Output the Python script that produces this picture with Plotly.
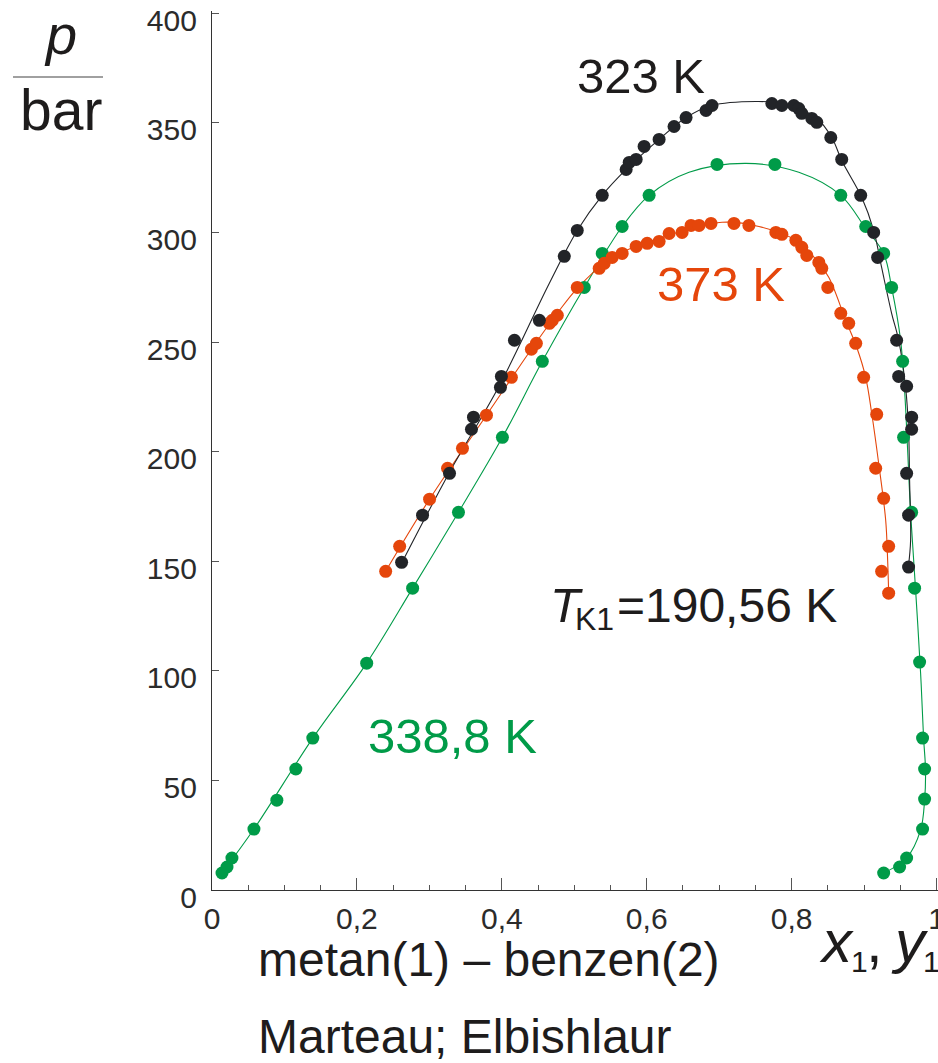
import plotly.graph_objects as go

# ---------------- data (x1/y1 mole fraction, p in bar) ----------------
# 323 K measured points
black_x = [0.2617, 0.2906, 0.3278, 0.3581, 0.3609, 0.3981, 0.3994, 0.4174, 0.4518, 0.4862,
           0.5041, 0.5386, 0.5716, 0.5758, 0.5854, 0.5964, 0.6171, 0.6377, 0.6543, 0.6818,
           0.6901, 0.7727, 0.7865, 0.8030, 0.8099, 0.8140, 0.8278, 0.8347, 0.8540, 0.8691,
           0.8953, 0.9132, 0.9187, 0.9449, 0.9477, 0.9587, 0.9656, 0.9656, 0.9587, 0.9614,
           0.9614]
black_p = [149.5, 171.0, 190.1, 210.2, 215.7, 229.3, 234.3, 250.8, 259.9, 289.1,
           300.9, 316.9, 328.7, 331.9, 333.3, 339.2, 342.4, 348.3, 352.4, 355.6,
           357.9, 358.8, 357.9, 357.9, 356.5, 354.3, 352.0, 350.2, 343.3, 333.3,
           316.9, 300.0, 288.6, 250.8, 234.3, 229.8, 215.7, 210.2, 190.1, 171.0,
           147.3]
# 323 K fitted envelope
black_line_x = [0.2617, 0.3278, 0.3967, 0.4656, 0.5041, 0.5386, 0.5716, 0.6171, 0.6543, 0.6901,
                0.7507, 0.7865, 0.8333, 0.8554, 0.8691, 0.8967, 0.9132, 0.9242, 0.9380, 0.9477,
                0.9573, 0.9614, 0.9628, 0.9642, 0.9614]
black_line_p = [149.1, 190.6, 230.2, 276.8, 300.9, 316.9, 328.7, 342.4, 352.4, 357.9,
                359.7, 358.8, 352.4, 343.3, 332.8, 316.0, 300.9, 284.0, 263.1, 250.8,
                229.3, 209.7, 186.9, 159.6, 148.2]

# 338,8 K measured points
green_x = [0.0138, 0.0207, 0.0275, 0.0579, 0.0895, 0.1157, 0.1391, 0.2135, 0.2769, 0.3402,
           0.4008, 0.4559, 0.5138, 0.5386, 0.5661, 0.6033, 0.6970, 0.7769, 0.8678, 0.9022,
           0.9270, 0.9380, 0.9532, 0.9545, 0.9656, 0.9697, 0.9766, 0.9807, 0.9835, 0.9835,
           0.9807, 0.9587, 0.9490, 0.9270]
green_p = [7.75, 10.5, 14.6, 27.8, 41.0, 55.2, 69.3, 103.5, 137.7, 172.3,
           206.5, 241.2, 274.9, 290.4, 302.7, 316.9, 331.0, 331.0, 316.9, 302.7,
           290.4, 274.9, 241.2, 206.5, 172.3, 137.7, 104.0, 69.3, 55.2, 41.5,
           27.8, 14.6, 10.5, 7.75]
green_line_x = [0.0138, 0.0579, 0.1391, 0.2135, 0.2769, 0.3402, 0.4008, 0.4559, 0.5138, 0.5661,
                0.6033, 0.6584, 0.7369, 0.8099, 0.8678, 0.9022, 0.9270, 0.9380, 0.9504, 0.9559,
                0.9601, 0.9642, 0.9711, 0.9780, 0.9821, 0.9848, 0.9835, 0.9780, 0.9587, 0.9270]
green_line_p = [7.75, 27.8, 69.3, 103.5, 137.7, 172.3, 206.5, 241.2, 274.9, 302.7,
                316.9, 327.4, 331.5, 327.4, 316.9, 301.8, 290.4, 274.9, 250.8, 228.0,
                200.6, 171.9, 136.8, 98.9, 69.3, 54.7, 41.0, 27.4, 14.6, 7.75]

# 373 K measured points
orange_x = [0.2397, 0.2590, 0.3003, 0.3251, 0.3457, 0.3788, 0.4132, 0.4408, 0.4477, 0.4656,
            0.4697, 0.4766, 0.5041, 0.5344, 0.5413, 0.5523, 0.5661, 0.5854, 0.6006, 0.6171,
            0.6309, 0.6488, 0.6612, 0.6722, 0.6887, 0.7204, 0.7410, 0.7782, 0.7865, 0.8058,
            0.8140, 0.8209, 0.8375, 0.8416, 0.8499, 0.8678, 0.8788, 0.8884, 0.8994, 0.9174,
            0.9160, 0.9270, 0.9339, 0.9242, 0.9339]
orange_p = [145.4, 156.8, 178.3, 192.4, 201.5, 216.6, 233.9, 246.7, 249.4, 258.5,
            259.9, 262.2, 274.9, 283.6, 285.9, 288.6, 290.4, 293.6, 295.0, 295.9,
            299.5, 300.0, 303.2, 303.2, 304.1, 304.1, 303.2, 300.0, 299.1, 296.4,
            293.2, 289.5, 286.3, 283.6, 274.9, 263.1, 258.5, 249.4, 233.9, 217.0,
            192.4, 178.7, 156.8, 145.4, 135.4]
orange_line_x = [0.2397, 0.3003, 0.3788, 0.4408, 0.4766, 0.5041, 0.5523, 0.6171, 0.7039, 0.7548,
                 0.8058, 0.8347, 0.8512, 0.8747, 0.8898, 0.9022, 0.9105, 0.9201, 0.9298, 0.9325,
                 0.9339]
orange_line_p = [145.4, 178.3, 216.6, 246.7, 263.1, 274.5, 288.6, 297.3, 304.6, 302.7,
                 296.4, 287.2, 279.5, 259.9, 247.6, 233.9, 217.5, 194.7, 168.7, 150.5,
                 135.4]

x_tickvals = [0, 0.2, 0.4, 0.6, 0.8, 1]
x_ticktext = ["0", "0,2", "0,4", "0,6", "0,8", "1"]
y_tickvals = [0, 50, 100, 150, 200, 250, 300, 350, 400]
y_ticktext = ["0", "50", "100", "150", "200", "250", "300", "350", "400"]

# ---------------- styling ----------------
BLACK = "#222428"
ORANGE = "#E5460B"
GREEN = "#009B48"
TXT = "#1E1C1C"
AX = "#333333"
W, H = 938, 1063
L, R, T, B = 212, 0, 11, 173
PW, PH = W - L - R, H - T - B
SANS = "Liberation Sans, Arial, sans-serif"


def px(x):
    return (x - L) / PW


def py(y):
    return (H - B - y) / PH


fig = go.Figure()

for lx, lp, c in [(green_line_x, green_line_p, GREEN),
                  (orange_line_x, orange_line_p, ORANGE),
                  (black_line_x, black_line_p, BLACK)]:
    fig.add_trace(go.Scatter(x=lx, y=lp, mode="lines",
                             line=dict(color=c, width=1.1, shape="spline", smoothing=1.0),
                             hoverinfo="skip", showlegend=False))

for mx, mp, c in [(green_x, green_p, GREEN),
                  (orange_x, orange_p, ORANGE),
                  (black_x, black_p, BLACK)]:
    fig.add_trace(go.Scatter(x=mx, y=mp, mode="markers",
                             marker=dict(color=c, size=13, line=dict(width=0)),
                             showlegend=False))

ann = []


def add_text(text, x, y, size, color=TXT, family=SANS, xanchor="center"):
    ann.append(dict(text=text, x=px(x), y=py(y), xref="paper", yref="paper",
                    xanchor=xanchor, yanchor="middle", showarrow=False,
                    font=dict(size=size, color=color, family=family)))


add_text("323 K", 641, 76, 49)
add_text("373 K", 721, 284, 49, color=ORANGE)
add_text("338,8 K", 452, 736, 49, color=GREEN)
add_text("<i>T</i>", 548, 605, 49, xanchor="left")
add_text("K1", 573, 619, 32, xanchor="left")
add_text("=190,56 K", 615, 605, 48, xanchor="left")
# y axis title p / bar
add_text("<i>p</i>", 60, 34, 56)
add_text("bar", 61, 110, 57)
# x axis title x1, y1
add_text("<i>x</i>", 817, 941, 60, xanchor="left")
add_text("1", 849, 961, 30, xanchor="left")
add_text(",", 864, 941, 60, xanchor="left")
add_text("<i>y</i>", 889, 941, 60, xanchor="left")
add_text("1", 921, 961, 30, xanchor="left")
# bottom caption
add_text("metan(1) – benzen(2)", 256, 959, 48, xanchor="left")
add_text("Marteau; Elbishlaur", 256, 1036, 48, xanchor="left")

fig.update_layout(
    width=W, height=H,
    margin=dict(l=L, r=R, t=T, b=B, pad=0, autoexpand=False),
    plot_bgcolor="white", paper_bgcolor="white",
    annotations=ann,
    shapes=[dict(type="line", xref="paper", yref="paper",
                 x0=px(13), x1=px(103), y0=py(77), y1=py(77),
                 line=dict(color="#808080", width=1.5))],
    font=dict(family=SANS, color=AX),
)

fig.update_xaxes(
    range=[0, 1.002], showgrid=False, zeroline=False, automargin=False,
    showline=True, linecolor=AX, linewidth=1.3,
    ticks="inside", ticklen=12, tickwidth=1, tickcolor="#555555",
    tickvals=x_tickvals, ticktext=x_ticktext,
    tickfont=dict(size=30, color="#2B2B2B", family=SANS),
    ticklabelstandoff=2, ticklabeloverflow="allow",
    minor=dict(dtick=0.05, tick0=0, ticks="inside", ticklen=5, tickwidth=1, tickcolor="#555555"),
)
fig.update_yaxes(
    range=[0, 401], showgrid=False, zeroline=False, automargin=False,
    showline=True, linecolor=AX, linewidth=1.3,
    ticks="inside", ticklen=7, tickwidth=1, tickcolor="#555555",
    tickvals=y_tickvals, ticktext=y_ticktext,
    tickfont=dict(size=30, color="#2B2B2B", family=SANS),
    ticklabelstandoff=8, ticklabelshift=7, ticklabeloverflow="allow",
)

fig.write_html("out.html")
